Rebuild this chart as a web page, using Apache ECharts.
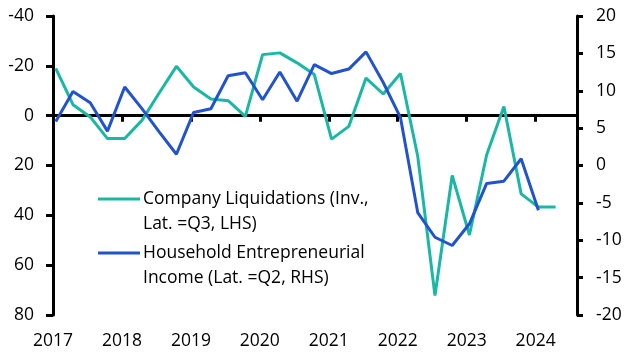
<!DOCTYPE html>
<html><head><meta charset="utf-8">
<script src="https://cdn.jsdelivr.net/npm/echarts@6/dist/echarts.min.js"></script>
<style>html,body{margin:0;padding:0;background:#fff}#c{width:631px;height:357px}</style>
</head><body><div id="c"></div>
<script>
// Quarterly data, first point Q2 2017
var startYear = 2017.04;
var liquidations = [-19, -4.4, 0.5, 9.2, 9.2, 1.9, -9.1, -19.8, -11.5, -6.7, -6.0, 0.3, -24.5, -25.2, -21.2, -16.5, 9.4, 4.3, -15.1, -8.7, -16.9, 16.3, 72.2, 24, 47.9, 15.7, -3.7, 31.4, 36.7, 36.7];
var entrepreneurial = [5.9, 9.9, 8.4, 4.6, 10.5, 7.6, 4.5, 1.5, 7.1, 7.6, 12.0, 12.4, 8.8, 12.5, 8.6, 13.5, 12.3, 12.9, 15.2, 11.1, 6.4, -6.3, -9.6, -10.7, -7.8, -2.4, -2.1, 0.9, -6.0];
var xTicks = [2017, 2018, 2019, 2020, 2021, 2022, 2023, 2024];
var leftTicks = [-40, -20, 0, 20, 40, 60, 80];
var rightTicks = [20, 15, 10, 5, 0, -5, -10, -15, -20];
var legendNames = ['Company Liquidations (Inv.,\nLat. =Q3, LHS)', 'Household Entrepreneurial\nIncome (Lat. =Q2, RHS)'];

var GREEN = '#18B8A4', BLUE = '#2253CE';
var FONT = 'Open Sans';
var FS = 17.5;
function toPairs(arr){ return arr.map(function(v,i){ return [startYear + 0.25*i, v]; }); }

var chart = echarts.init(document.getElementById('c'), null, {renderer:'canvas'});
chart.setOption({
  animation:false,
  grid:{left:53, right:54, top:16, bottom:42},
  xAxis:{type:'value', min:xTicks[0], max:2024.6, interval:1,
    axisLine:{lineStyle:{color:'#000', width:3}},
    axisTick:{show:true, length:6, lineStyle:{color:'#000', width:3}},
    axisLabel:{color:'#000', fontSize:FS, fontFamily:FONT, margin:17,
      formatter:function(v){ return xTicks.indexOf(v) >= 0 ? String(v) : ''; }},
    splitLine:{show:false}},
  yAxis:[
    {type:'value', inverse:true, min:leftTicks[0], max:leftTicks[leftTicks.length-1], interval:20, position:'left',
      axisLine:{show:true, lineStyle:{color:'#000', width:3}},
      axisTick:{show:true, length:7, lineStyle:{color:'#000', width:3}},
      axisLabel:{color:'#000', fontSize:FS, fontFamily:FONT, margin:19},
      splitLine:{show:false}},
    {type:'value', min:rightTicks[rightTicks.length-1], max:rightTicks[0], interval:5, position:'right',
      axisLine:{show:true, lineStyle:{color:'#000', width:3}},
      axisTick:{show:true, length:6, lineStyle:{color:'#000', width:3}},
      axisLabel:{color:'#000', fontSize:FS, fontFamily:FONT, margin:19},
      splitLine:{show:false}}
  ],
  series:[
    {type:'line', name:legendNames[0], yAxisIndex:0, data:toPairs(liquidations), symbol:'none',
      lineStyle:{color:GREEN, width:3}, itemStyle:{color:GREEN}, z:3,
      markLine:{silent:true, symbol:'none', label:{show:false}, lineStyle:{color:'#000', width:3, type:'solid'},
        data:[{yAxis:0}], z:1}},
    {type:'line', name:legendNames[1], yAxisIndex:1, data:toPairs(entrepreneurial), symbol:'none',
      lineStyle:{color:BLUE, width:3}, itemStyle:{color:BLUE}, z:4}
  ],
  graphic:[
    {type:'line', shape:{x1:98, y1:199, x2:140, y2:199}, style:{stroke:GREEN, lineWidth:3}},
    {type:'text', x:143, y:187, style:{text:legendNames[0], fill:'#000', font:'17.5px "Open Sans"', lineHeight:25, textVerticalAlign:'top'}},
    {type:'line', shape:{x1:98, y1:253, x2:140, y2:253}, style:{stroke:BLUE, lineWidth:3}},
    {type:'text', x:143, y:241, style:{text:legendNames[1], fill:'#000', font:'17.5px "Open Sans"', lineHeight:25, textVerticalAlign:'top'}}
  ]
});
</script></body></html>
